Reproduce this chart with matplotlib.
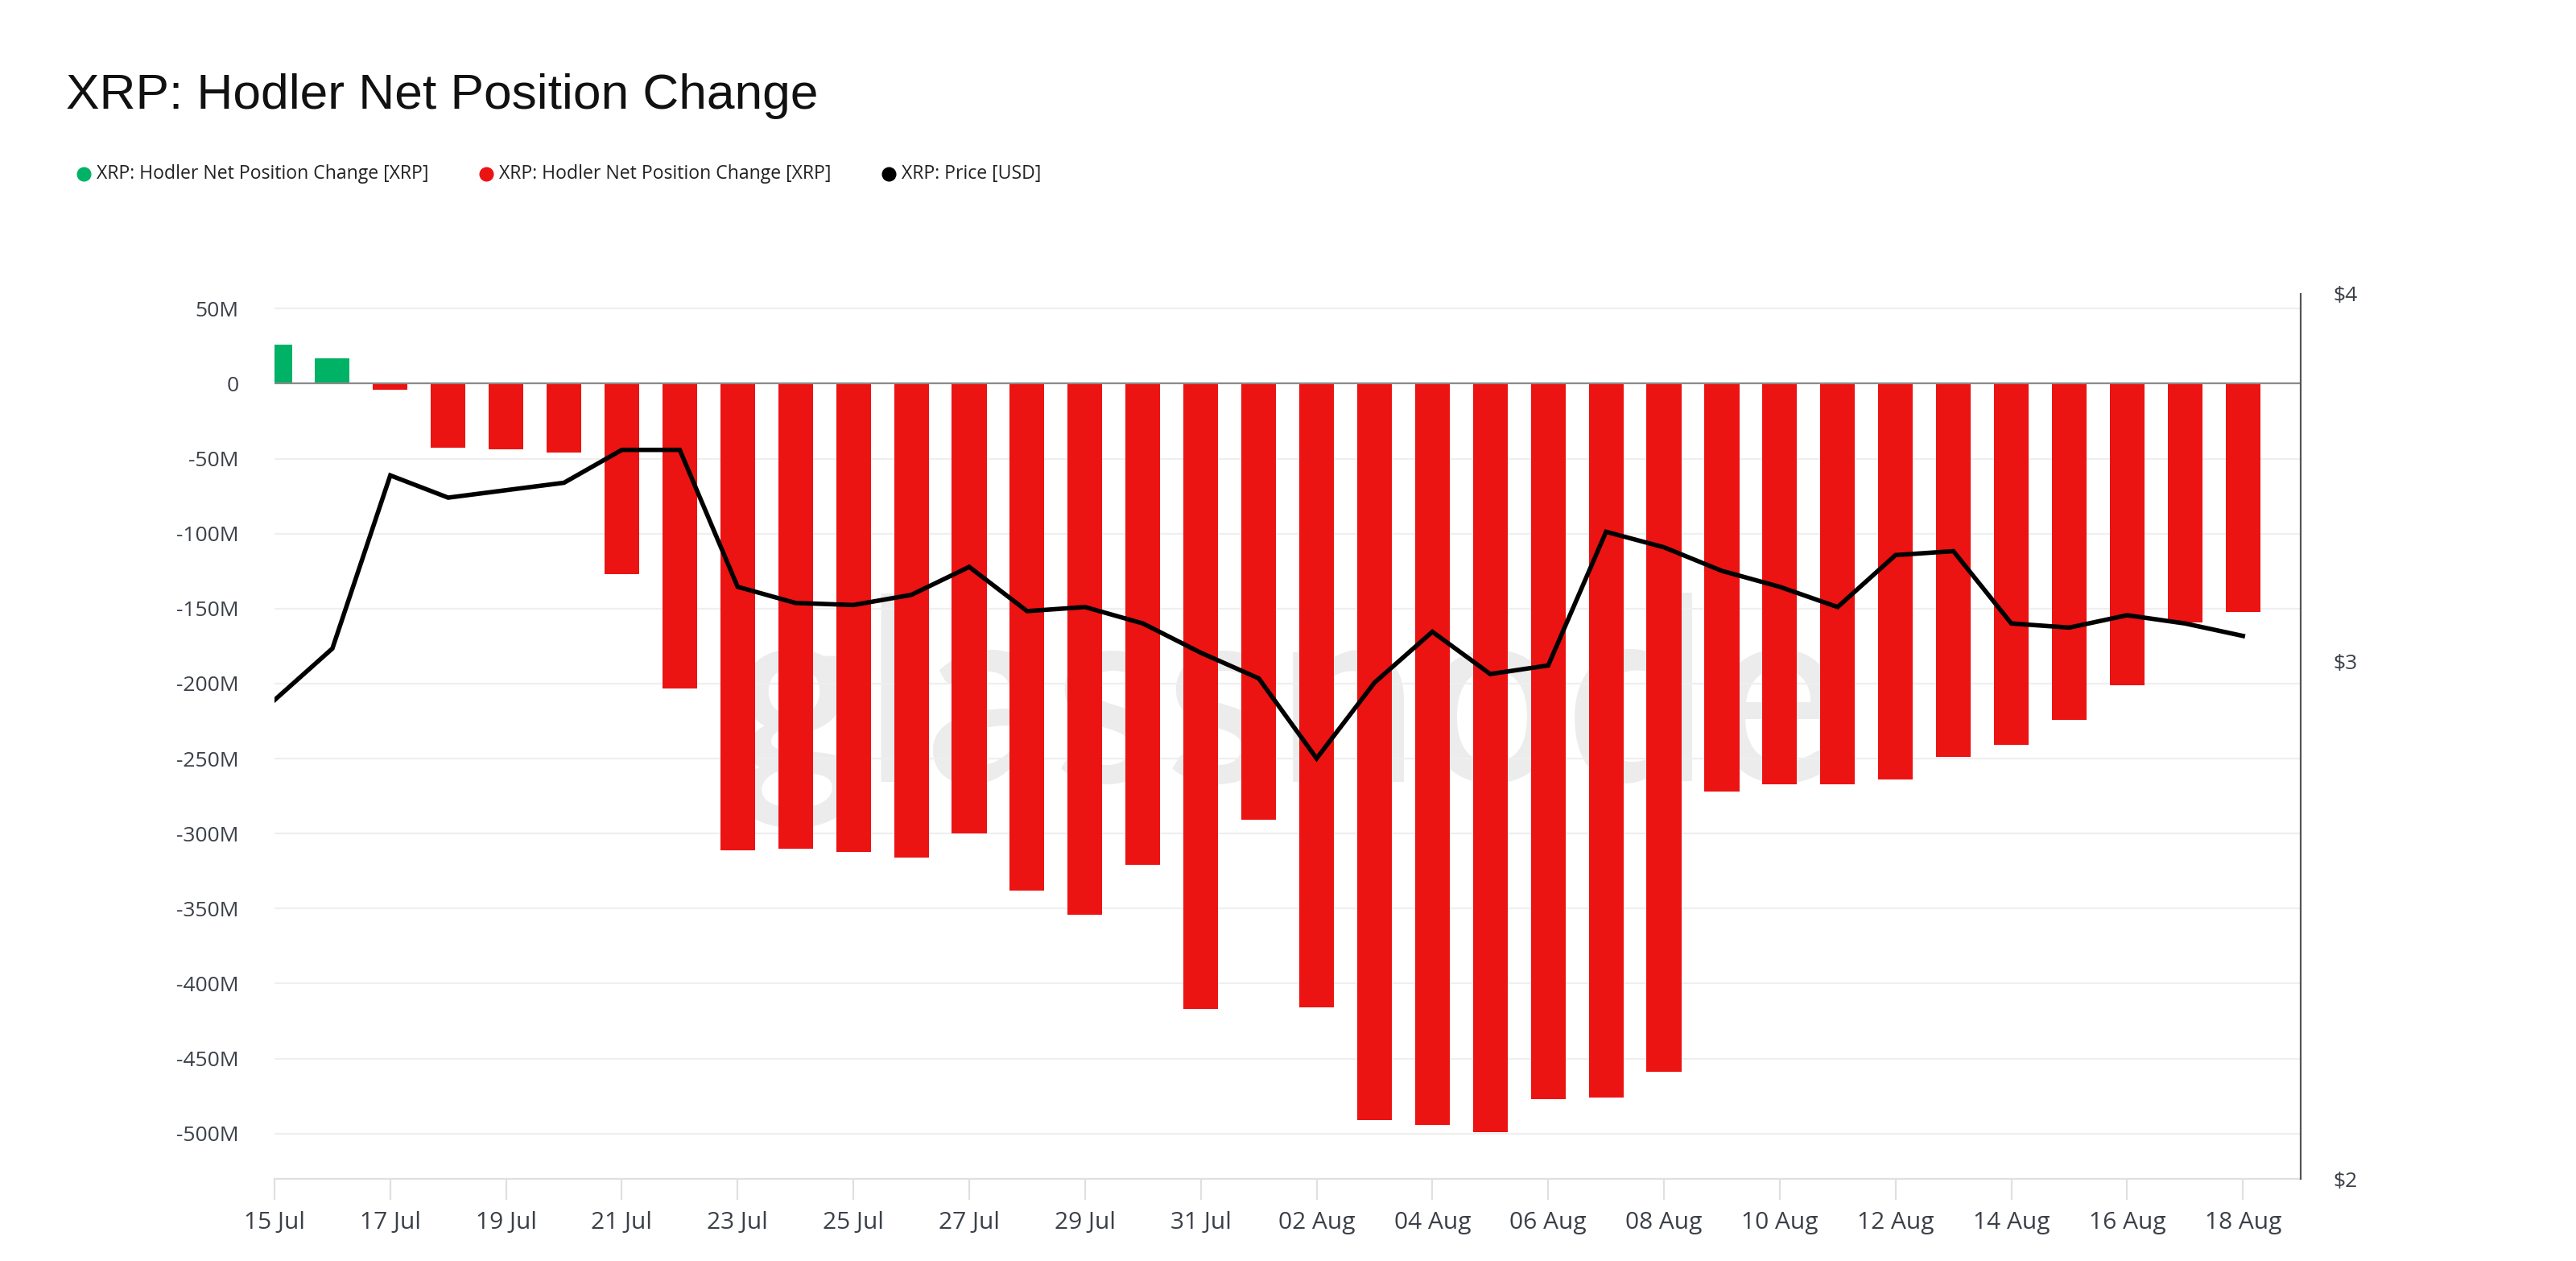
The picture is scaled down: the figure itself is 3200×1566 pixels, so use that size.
"""
XRP: Hodler Net Position Change
Bars = daily hodler net position change (green up / red down), line = XRP price (log, right axis).
"""

import datetime as dt

import matplotlib
matplotlib.use("Agg")
import matplotlib.pyplot as plt
from matplotlib.lines import Line2D
from matplotlib.ticker import FuncFormatter, FixedLocator, NullLocator

# ── data ─────────────────────────────────────────────────────────────────────

start_date = dt.date(2025, 7, 15)
n_days = 35
dates = [start_date + dt.timedelta(days=i) for i in range(n_days)]

# net position change, millions of XRP (15 Jul .. 18 Aug)
net_change_m = [
    26, 17, -4, -43, -44, -46, -127, -203, -311, -310,
    -312, -316, -300, -338, -354, -321, -417, -291, -416, -491,
    -494, -499, -477, -476, -459, -272, -267, -267, -264, -249,
    -241, -224, -201, -159, -152,
]

# price, USD
price_usd = [
    2.91, 3.03, 3.47, 3.41, 3.43, 3.45, 3.54, 3.54, 3.18, 3.14,
    3.135, 3.16, 3.23, 3.12, 3.13, 3.09, 3.02, 2.96, 2.78, 2.95,
    3.07, 2.97, 2.99, 3.32, 3.28, 3.22, 3.18, 3.13, 3.26, 3.27,
    3.09, 3.08, 3.11, 3.09, 3.06,
]

left_ticks_m = [50, 0, -50, -100, -150, -200, -250, -300, -350, -400, -450, -500]
right_ticks = [2, 3, 4]

legend_labels = [
    "XRP: Hodler Net Position Change [XRP]",
    "XRP: Hodler Net Position Change [XRP]",
    "XRP: Price [USD]",
]

# ── style ────────────────────────────────────────────────────────────────────

GREEN = "#00b266"
RED = "#ec1313"
TICK_COLOR = "#3b4048"
GRID_COLOR = "#efefef"
FONT = ["Open Sans", "DejaVu Sans"]

plt.rcParams["font.family"] = FONT

fig = plt.figure(figsize=(32, 15.66), dpi=100)
fig.patch.set_facecolor("white")
ax = fig.add_axes([0.10656, 0.06513, 0.7866, 0.7018])

x_vals = [matplotlib.dates.date2num(d) for d in dates]
values = [v * 1e6 for v in net_change_m]
colors = [GREEN if v >= 0 else RED for v in values]

ax.bar(x_vals, values, width=0.6, color=colors, zorder=2, linewidth=0)
ax.axhline(0, color="#8a8a8a", linewidth=1.6, zorder=3)

# watermark
ax.text(0.5, 0.53, "glassnode", transform=ax.transAxes, ha="center", va="center",
        fontsize=228, fontweight="semibold", color="#ececec",
        family=["Lato", "DejaVu Sans"], zorder=0.2)

ax.set_xlim(x_vals[0], x_vals[0] + 35)
ax.set_ylim(-530.2e6, 59.8e6)

ax.yaxis.set_major_locator(FixedLocator([t * 1e6 for t in left_ticks_m]))
ax.yaxis.set_major_formatter(FuncFormatter(
    lambda v, _: "0" if abs(v) < 1 else f"{v / 1e6:.0f}M"))
ax.grid(axis="y", color=GRID_COLOR, linewidth=1.6)
ax.set_axisbelow(True)

ax.set_xticks(x_vals[::2])
ax.set_xticklabels([d.strftime("%d %b") for d in dates[::2]])

for side in ("top", "left", "right"):
    ax.spines[side].set_visible(False)
ax.spines["bottom"].set_color("#e0e0e0")
ax.spines["bottom"].set_linewidth(1.6)

ax.tick_params(axis="x", length=19, width=1.6, color="#e0e0e0",
               labelsize=21.5, labelcolor=TICK_COLOR, pad=10)
ax.tick_params(axis="y", length=0, labelsize=19, labelcolor=TICK_COLOR, pad=32)

# price on log right axis
ax2 = ax.twinx()
ax2.plot(x_vals, price_usd, color="black", linewidth=4.0, zorder=4,
         solid_joinstyle="miter")
ax2.set_yscale("log")
ax2.set_ylim(2, 4)
ax2.yaxis.set_major_locator(FixedLocator(right_ticks))
ax2.yaxis.set_minor_locator(NullLocator())
ax2.yaxis.set_major_formatter(FuncFormatter(lambda v, _: f"${v:.0f}"))
for side in ("top", "left", "bottom"):
    ax2.spines[side].set_visible(False)
ax2.spines["right"].set_color("#555555")
ax2.spines["right"].set_linewidth(1.6)
ax2.tick_params(axis="y", length=0, labelsize=19, labelcolor=TICK_COLOR, pad=29)

# title
fig.text(82 / 3200, 1 - 135 / 1566, "XRP: Hodler Net Position Change",
         fontsize=44.8, color="#111111", family=["Liberation Sans", "DejaVu Sans"],
         ha="left", va="baseline")

# legend, drawn by hand
legend_x = [104, 604, 1104]
legend_colors = [GREEN, RED, "black"]
legend_y = 1 - 216 / 1566
for lx, lc, label in zip(legend_x, legend_colors, legend_labels):
    fig.add_artist(Line2D([lx / 3200], [legend_y], marker="o", markersize=12,
                          color=lc, linestyle="none", transform=fig.transFigure))
    fig.text((lx + 16) / 3200, legend_y, label, fontsize=16.6, color="#222222",
             ha="left", va="center")

fig.savefig("out.png", dpi=100)
plt.close(fig)
